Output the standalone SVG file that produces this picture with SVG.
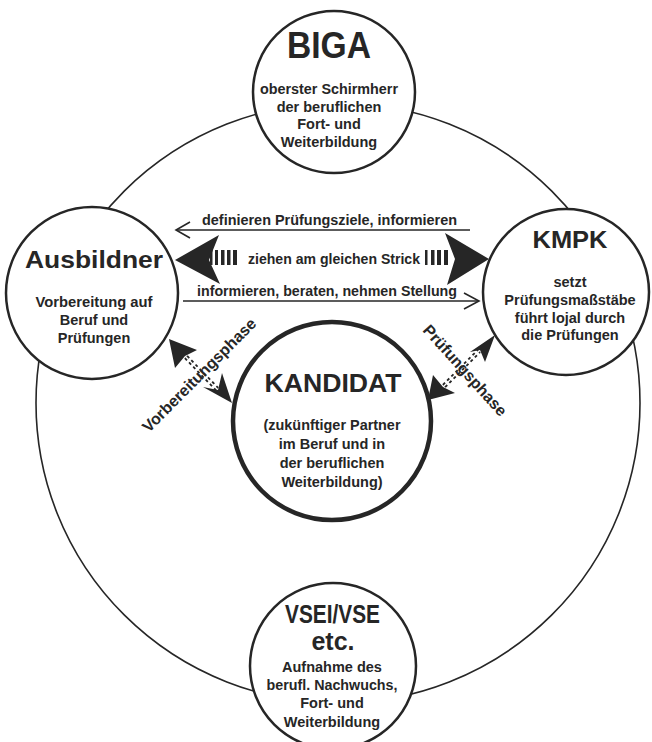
<svg xmlns="http://www.w3.org/2000/svg" width="652" height="742" viewBox="0 0 652 742">
<style>
  text { font-family: "Liberation Sans", Arial, sans-serif; font-weight: bold; fill: #262626; text-anchor: middle; }
  .node { fill: #fff; stroke: #262626; stroke-width: 2.5; }
  .cand { fill: #fff; stroke: #262626; stroke-width: 4.5; }
  .ring { fill: none; stroke: #262626; stroke-width: 1.6; }
  .t1 { font-size: 36px; }
  .t2 { font-size: 23px; }
  .t3 { font-size: 25px; }
  .sub { font-size: 14.5px; }
  .sub2 { font-size: 14.5px; }
  .lbl { font-size: 14px; }
  .phase { font-size: 16px; }
  .line { fill: none; stroke: #262626; stroke-width: 1.6; }
  .head { fill: #262626; stroke: none; }
  .dash { fill: none; stroke: #262626; stroke-width: 5; stroke-dasharray: 3 3; }
  .split { fill: none; stroke: #fff; stroke-width: 1.3; }
</style>
<rect width="652" height="742" fill="#fff"/>
<ellipse class="ring" cx="338" cy="403" rx="302" ry="300"/>

<g id="connectors">
  <!-- definieren Prüfungsziele -->
  <line class="line" x1="176" y1="230" x2="470" y2="230"/>
  <polyline class="line" points="190,222 176,230 190,238"/>
  <text class="lbl" x="329.5" y="225" textLength="255" lengthAdjust="spacingAndGlyphs">definieren Prüfungsziele, informieren</text>
  <!-- ziehen am gleichen Strick -->
  <path class="head" d="M175,260 L219,235 L209,260 L220,284 Z"/>
  <path class="head" d="M489,259 L445,233 L455,259 L447,285 Z"/>
  <g class="head">
    <rect x="210" y="250" width="2.5" height="15"/>
    <rect x="215" y="250" width="3" height="15"/>
    <rect x="221" y="250" width="3.5" height="15"/>
    <rect x="227" y="250" width="3.5" height="15"/>
    <rect x="233" y="250" width="4" height="15"/>
    <rect x="425" y="250" width="2.5" height="15"/>
    <rect x="431" y="250" width="3.5" height="15"/>
    <rect x="437" y="250" width="4" height="15"/>
    <rect x="444" y="250" width="4" height="15"/>
  </g>
  <text class="lbl" x="334" y="264" textLength="172" lengthAdjust="spacingAndGlyphs">ziehen am gleichen Strick</text>
  <!-- informieren, beraten -->
  <line class="line" x1="183" y1="301" x2="479" y2="301"/>
  <polyline class="line" points="464,293 479,301 464,309"/>
  <text class="lbl" x="327" y="296" textLength="260" lengthAdjust="spacingAndGlyphs">informieren, beraten, nehmen Stellung</text>
  <!-- Vorbereitungsphase -->
  <path class="dash" d="M186,357 L217,389"/>
  <path class="split" d="M186,357 L217,389"/>
  <path class="head" d="M169,339 L197,350 L185,356 L175,368 Z"/>
  <path class="head" d="M232,403 L203,387 L218,390 L222,373 Z"/>
  <text class="phase" transform="translate(203,379) rotate(-45)">Vorbereitungsphase</text>
  <!-- Prüfungsphase -->
  <path class="dash" d="M444,386 L479,351"/>
  <path class="split" d="M444,386 L479,351"/>
  <path class="head" d="M495,335 L485,362 L480,350 L470,352 Z"/>
  <path class="head" d="M428,400 L433,375 L443,387 L455,393 Z"/>
  <text class="phase" transform="translate(461,374) rotate(48)">Prüfungsphase</text>
</g>

<g id="biga">
  <circle class="node" cx="334" cy="92" r="81"/>
  <text class="t1" x="329" y="58" textLength="84" lengthAdjust="spacingAndGlyphs">BIGA</text>
  <text class="sub" x="329" y="94" textLength="138" lengthAdjust="spacingAndGlyphs">oberster Schirmherr</text>
  <text class="sub" x="329" y="111.5">der beruflichen</text>
  <text class="sub" x="329" y="129">Fort- und</text>
  <text class="sub" x="329" y="146.5">Weiterbildung</text>
</g>

<g id="ausbildner">
  <circle class="node" cx="92" cy="293" r="86"/>
  <text class="t2" x="94" y="268" textLength="138" lengthAdjust="spacingAndGlyphs">Ausbildner</text>
  <text class="sub" x="94" y="307" textLength="117" lengthAdjust="spacingAndGlyphs">Vorbereitung auf</text>
  <text class="sub" x="94" y="325">Beruf und</text>
  <text class="sub" x="94" y="343">Prüfungen</text>
</g>

<g id="kmpk">
  <circle class="node" cx="566" cy="292" r="83"/>
  <text class="t2" x="570" y="248" textLength="75" lengthAdjust="spacingAndGlyphs">KMPK</text>
  <text class="sub" x="570" y="287">setzt</text>
  <text class="sub" x="570" y="305">Prüfungsmaßstäbe</text>
  <text class="sub" x="570" y="322.5">führt lojal durch</text>
  <text class="sub" x="570" y="340">die Prüfungen</text>
</g>

<g id="kandidat">
  <circle class="cand" cx="332" cy="421" r="99"/>
  <text class="t3" x="333" y="392" textLength="137" lengthAdjust="spacingAndGlyphs">KANDIDAT</text>
  <text class="sub2" x="332" y="430" textLength="137" lengthAdjust="spacingAndGlyphs">(zukünftiger Partner</text>
  <text class="sub2" x="332" y="449">im Beruf und in</text>
  <text class="sub2" x="332" y="468">der beruflichen</text>
  <text class="sub2" x="332" y="487">Weiterbildung)</text>
</g>

<g id="vsei">
  <circle class="node" cx="333" cy="666" r="83"/>
  <text class="t3" x="332.5" y="623" textLength="95" lengthAdjust="spacingAndGlyphs">VSEI/VSE</text>
  <text class="t3" x="333" y="650">etc.</text>
  <text class="sub2" x="332" y="672">Aufnahme des</text>
  <text class="sub2" x="332" y="690" textLength="131" lengthAdjust="spacingAndGlyphs">berufl. Nachwuchs,</text>
  <text class="sub2" x="332" y="708">Fort- und</text>
  <text class="sub2" x="332" y="727">Weiterbildung</text>
</g>
</svg>
